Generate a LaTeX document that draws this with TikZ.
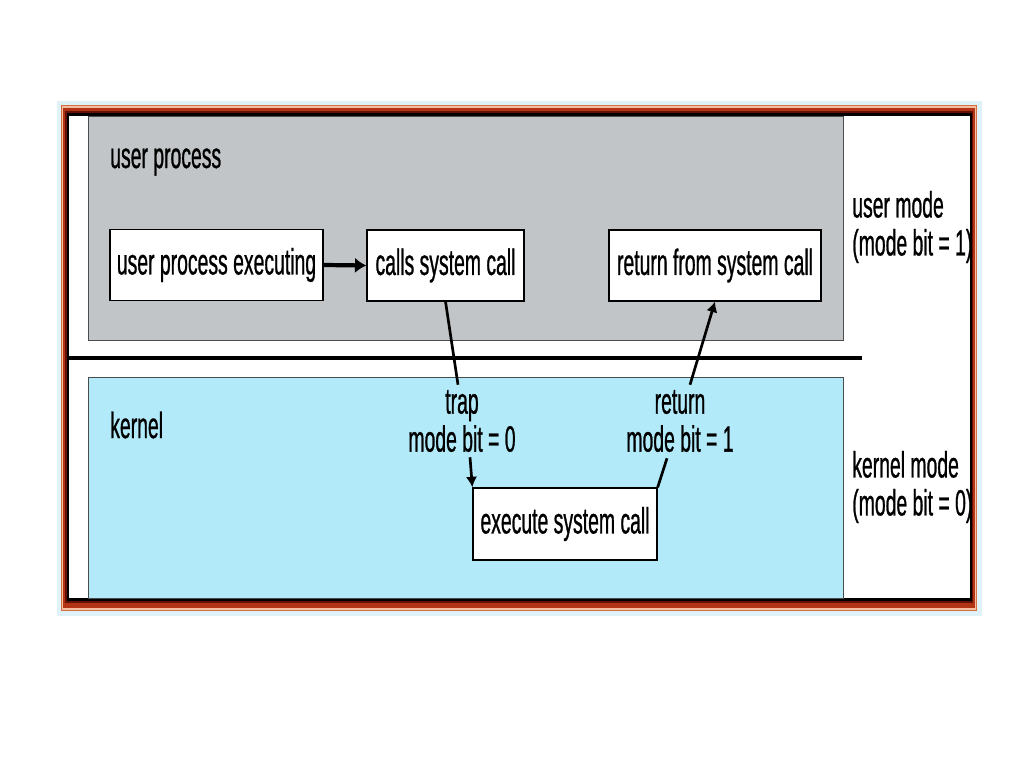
\documentclass[tikz,border=0pt]{standalone}
\usepackage{fontspec}
\setmainfont[FakeStretch=0.53,FakeBold=0.7]{Liberation Sans}
\usetikzlibrary{arrows.meta,positioning,calc}

\definecolor{glow}{RGB}{222,242,247}
\definecolor{frameorange}{RGB}{214,110,66}
\definecolor{framepeach}{RGB}{244,190,160}
\definecolor{framered}{RGB}{178,52,20}
\definecolor{framedark}{RGB}{100,16,4}
\definecolor{usergray}{RGB}{193,197,199}
\definecolor{kernelblue}{RGB}{178,234,250}

\begin{document}
\begin{tikzpicture}[
  x=0.025cm, y=-0.025cm,
  every node/.style={font=\fontsize{26}{27}\selectfont},
  box/.style={draw=black, fill=white, line width=0.9pt, inner sep=0pt, minimum height=1.77cm},
  lbl/.style={inner sep=0pt, align=left},
  conn/.style={line width=1.9pt},
  >={Latex[length=7.5pt,width=8pt]}
]
\useasboundingbox[fill=white] (0,0) rectangle (1024,768);

% frame around the slide picture
\fill[glow] (57,101) rectangle (982,616);
\fill[frameorange] (61,105) rectangle (977,611);
\fill[framepeach] (62,106.5) rectangle (976,609.5);
\fill[framered] (63,108) rectangle (975,607.5);
\fill[framedark] (65,111) rectangle (973,603);
\fill[black] (66.5,113) rectangle (971.5,600.5);
\fill[white] (68.5,116) rectangle (970,598);

% mode areas
\filldraw[fill=usergray, draw=black!70, line width=0.6pt] (88,116) rectangle (843,340);
\filldraw[fill=kernelblue, draw=black!70, line width=0.6pt] (88,377) rectangle (843,598);
\draw[line width=2.8pt] (67,358) -- (862,358);

% texts
\node[lbl, anchor=west] (up)  at (110,162) {user process};
\node[lbl, anchor=west] (krn) at (110,425) {kernel};
\node[lbl, anchor=west] (um)  at (852,227) {user mode\\(mode bit = 1)};
\node[lbl, anchor=west] (km)  at (852,487) {kernel mode\\(mode bit = 0)};

% boxes
\node[box, minimum width=5.33cm] (upe)   at (216.5,265)   {user process executing};
\node[box, minimum width=3.93cm] (calls) at (445.5,265.5) {calls system call};
\node[box, minimum width=5.3cm]  (ret)   at (715,265.5)   {return from system call};
\node[box, minimum width=4.6cm, minimum height=1.8cm] (exec) at (565,524) {execute system call};

% transition labels
\node[lbl, align=center] (trap) at (462,421) {trap\\mode bit = 0};
\node[lbl, align=center] (back) at (680,421) {return\\mode bit = 1};

% connectors
\draw[conn, line width=3pt, -{Latex[length=8pt,width=11pt]}] (upe.east) -- (calls.west);
\draw[conn] (calls.south) -- ($(trap.north)+(-4,-5)$);
\draw[conn, ->] ($(trap.south)+(8,5)$) -- (exec.north west);
\draw[conn] (exec.north east) -- ($(back.south)+(-13,6)$);
\draw[conn, ->] ($(back.north)+(10,-5)$) -- (ret.south);
\end{tikzpicture}
\end{document}
